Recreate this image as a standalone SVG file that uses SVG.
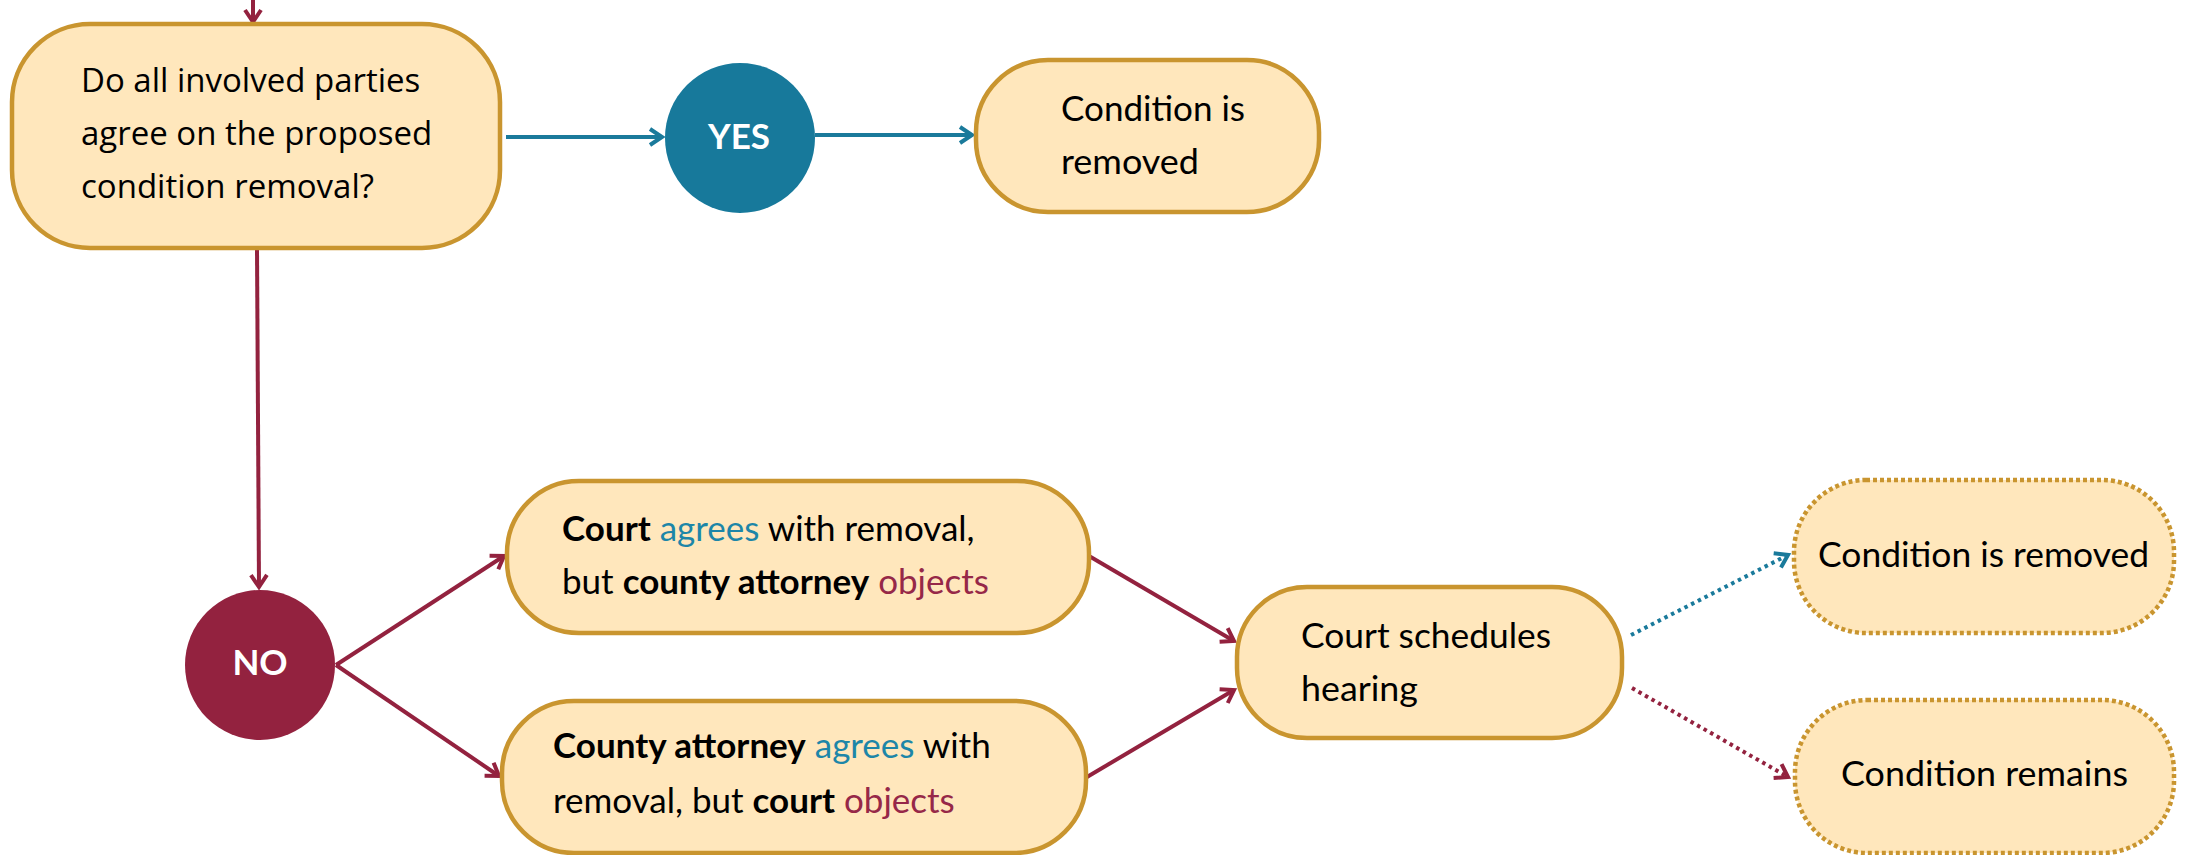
<svg xmlns="http://www.w3.org/2000/svg" width="2190" height="855" viewBox="0 0 2190 855">
<style>
.box{fill:#FFE7BC;stroke:#C9952F;stroke-width:4.5}
.dbox{fill:#FFE7BC;stroke:#C9952F;stroke-width:4.5;stroke-dasharray:4 3}
.t{font-family:Lato,"Open Sans",sans-serif;font-size:35px;fill:#000}
.q{font-family:"Open Sans",sans-serif;font-size:33px;fill:#000}
.b{font-weight:bold}
.ag{fill:#1D86A8}
.ob{fill:#962848}
.ct{font-family:Lato,sans-serif;font-weight:bold;font-size:35px;fill:#fff;text-anchor:middle}
.tl{fill:none;stroke:#1A7A9B;stroke-width:4}
.rl{fill:none;stroke:#93223F;stroke-width:4}
.td{fill:none;stroke:#1A7A9B;stroke-width:4;stroke-dasharray:3.5 4}
.rd{fill:none;stroke:#93223F;stroke-width:4;stroke-dasharray:3.5 4}
</style>
<defs>
<marker id="ah-t" markerUnits="userSpaceOnUse" markerWidth="18" markerHeight="20" refX="14" refY="9" orient="auto" viewBox="0 0 18 18"><path d="M2,1 L14,9 L2,17" fill="none" stroke="#1A7A9B" stroke-width="4"/></marker>
<marker id="ah-r" markerUnits="userSpaceOnUse" markerWidth="18" markerHeight="20" refX="14" refY="9" orient="auto" viewBox="0 0 18 18"><path d="M2,1 L14,9 L2,17" fill="none" stroke="#93223F" stroke-width="4"/></marker>
</defs>

<g id="connectors">
<line class="rl" x1="253" y1="0" x2="253" y2="22" marker-end="url(#ah-r)"/>
<line class="tl" x1="506" y1="137" x2="662" y2="137" marker-end="url(#ah-t)"/>
<line class="tl" x1="815" y1="135" x2="972" y2="135" marker-end="url(#ah-t)"/>
<line class="rl" x1="257" y1="250" x2="259" y2="587" marker-end="url(#ah-r)"/>
<line class="rl" x1="336" y1="665" x2="504" y2="556" marker-end="url(#ah-r)"/>
<line class="rl" x1="336" y1="665" x2="499" y2="776" marker-end="url(#ah-r)"/>
<line class="rl" x1="1089" y1="556" x2="1234" y2="641" marker-end="url(#ah-r)"/>
<line class="rl" x1="1087" y1="777" x2="1234" y2="690" marker-end="url(#ah-r)"/>
<line class="td" x1="1631" y1="635" x2="1788" y2="555" marker-end="url(#ah-t)"/>
<line class="rd" x1="1632" y1="688" x2="1788" y2="777" marker-end="url(#ah-r)"/>
</g>

<g id="question">
<rect class="box" x="12" y="24" width="488" height="224" rx="78" ry="78"/>
<text class="q" x="81" y="92">Do all involved parties</text>
<text class="q" x="81" y="145">agree on the proposed</text>
<text class="q" x="81" y="198">condition removal?</text>
</g>

<g id="yes">
<circle cx="740" cy="138" r="75" fill="#17799B"/>
<text class="ct" x="739" y="149">YES</text>
</g>

<g id="removed-top">
<rect class="box" x="976" y="60" width="343" height="152" rx="72" ry="72"/>
<text class="t" x="1061" y="121" textLength="184" lengthAdjust="spacingAndGlyphs">Condition is</text>
<text class="t" x="1061" y="174" textLength="138" lengthAdjust="spacingAndGlyphs">removed</text>
</g>

<g id="no">
<circle cx="260" cy="665" r="75" fill="#93223F"/>
<text class="ct" x="260" y="675">NO</text>
</g>

<g id="court-agrees">
<rect class="box" x="507" y="481" width="582" height="152" rx="72" ry="72"/>
<text class="t" x="562" y="541"><tspan class="b">Court</tspan> <tspan class="ag">agrees</tspan> with removal,</text>
<text class="t" x="562" y="594"><tspan>but </tspan><tspan class="b">county attorney</tspan> <tspan class="ob">objects</tspan></text>
</g>

<g id="county-agrees">
<rect class="box" x="502" y="701" width="584" height="152" rx="72" ry="72"/>
<text class="t" x="553" y="758"><tspan class="b">County attorney</tspan> <tspan class="ag">agrees</tspan> with</text>
<text class="t" x="553" y="813"><tspan>removal, but </tspan><tspan class="b">court</tspan> <tspan class="ob">objects</tspan></text>
</g>

<g id="hearing">
<rect class="box" x="1237" y="587" width="385" height="151" rx="70" ry="70"/>
<text class="t" x="1301" y="648" textLength="250" lengthAdjust="spacingAndGlyphs">Court schedules</text>
<text class="t" x="1301" y="701" textLength="117" lengthAdjust="spacingAndGlyphs">hearing</text>
</g>

<g id="removed-final">
<rect class="dbox" x="1794" y="480" width="380" height="153" rx="72" ry="72"/>
<text class="t" x="1818" y="567" textLength="331" lengthAdjust="spacingAndGlyphs">Condition is removed</text>
</g>

<g id="remains">
<rect class="dbox" x="1795" y="700" width="379" height="153" rx="72" ry="72"/>
<text class="t" x="1841" y="786" textLength="287" lengthAdjust="spacingAndGlyphs">Condition remains</text>
</g>
</svg>
